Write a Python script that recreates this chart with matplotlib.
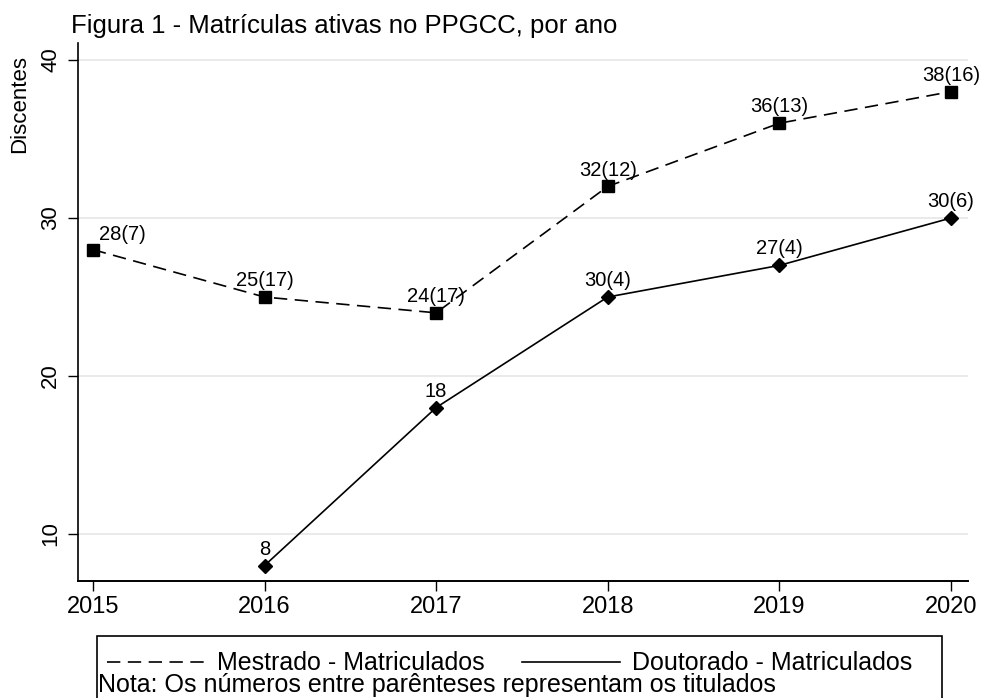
import matplotlib.pyplot as plt
from matplotlib.patches import Rectangle

plt.rcParams['font.family'] = ['Liberation Sans', 'DejaVu Sans']

anos = [2015, 2016, 2017, 2018, 2019, 2020]
mestrado = [28, 25, 24, 32, 36, 38]
mestrado_lab = ["28(7)", "25(17)", "24(17)", "32(12)", "36(13)", "38(16)"]
anos_dout = [2016, 2017, 2018, 2019, 2020]
doutorado = [8, 18, 25, 27, 30]
doutorado_lab = ["8", "18", "30(4)", "27(4)", "30(6)"]

W, H = 984, 698
fig = plt.figure(figsize=(W / 100, H / 100), dpi=100)
ax = fig.add_axes([78 / W, 1 - 581 / H, (968 - 78) / W, (581 - 43) / H])

tracejado = (0, (8, 4.5))
l1, = ax.plot(anos, mestrado, color="black", linestyle=tracejado, linewidth=1.2,
              marker="s", markersize=9, label="Mestrado - Matriculados")
l2, = ax.plot(anos_dout, doutorado, color="black", linestyle="-", linewidth=1.2,
              marker="D", markersize=7, label="Doutorado - Matriculados")

for x, y, t in zip(anos, mestrado, mestrado_lab):
    if x == anos[0]:
        ax.annotate(t, (x, y), xytext=(4.5, 4), textcoords="offset points",
                    ha="left", va="bottom", fontsize=14.5)
    else:
        ax.annotate(t, (x, y), xytext=(0, 5), textcoords="offset points",
                    ha="center", va="bottom", fontsize=14.5)
for x, y, t in zip(anos_dout, doutorado, doutorado_lab):
    ax.annotate(t, (x, y), xytext=(0, 5), textcoords="offset points",
                ha="center", va="bottom", fontsize=14.5)

ax.set_xlim(2014.913, 2020.1)
ax.set_ylim(7.025, 41.08)
ax.set_xticks(anos)
ax.set_yticks([10, 20, 30, 40])
ax.set_yticklabels(["10", "20", "30", "40"], rotation=90, va="center")
ax.tick_params(axis="x", labelsize=17, length=7, width=1, pad=4)
ax.tick_params(axis="y", labelsize=16, length=7, width=1, pad=5)
ax.grid(axis="y", color="#e6e6e6", linewidth=1.2)
ax.set_axisbelow(True)
for s in ["top", "right"]:
    ax.spines[s].set_visible(False)
ax.spines["left"].set_linewidth(1.2)
ax.spines["bottom"].set_linewidth(1.4)

fig.text(20 / W, 1 - 104 / H, "Discentes", rotation=90, fontsize=16,
         ha="center", va="center")
fig.text(71 / W, 1 - 33 / H, "Figura 1 - Matrículas ativas no PPGCC, por ano",
         fontsize=18.5, va="baseline", ha="left")

# caixa da legenda + nota
fig.patches.append(Rectangle((97 / W, -0.01), (942 - 97) / W, (636 / H * 0 + (H - 636) / H) + 0.01,
                             transform=fig.transFigure, fill=False,
                             edgecolor="black", linewidth=1.2))
fig.legend([l1, l2], [l1.get_label(), l2.get_label()],
           loc="center left", bbox_to_anchor=(107 / W, 1 - 663 / H),
           ncol=2, frameon=False, fontsize=18, handlelength=3.9,
           handletextpad=0.5, columnspacing=1.5, borderaxespad=0,
           borderpad=0, handleheight=0.5)
for h in fig.legends[0].legend_handles:
    h.set_marker("")
fig.text(98 / W, 1 - 692 / H,
         "Nota: Os números entre parênteses representam os titulados",
         fontsize=18, va="baseline", ha="left")

fig.savefig("out.png", dpi=100)
